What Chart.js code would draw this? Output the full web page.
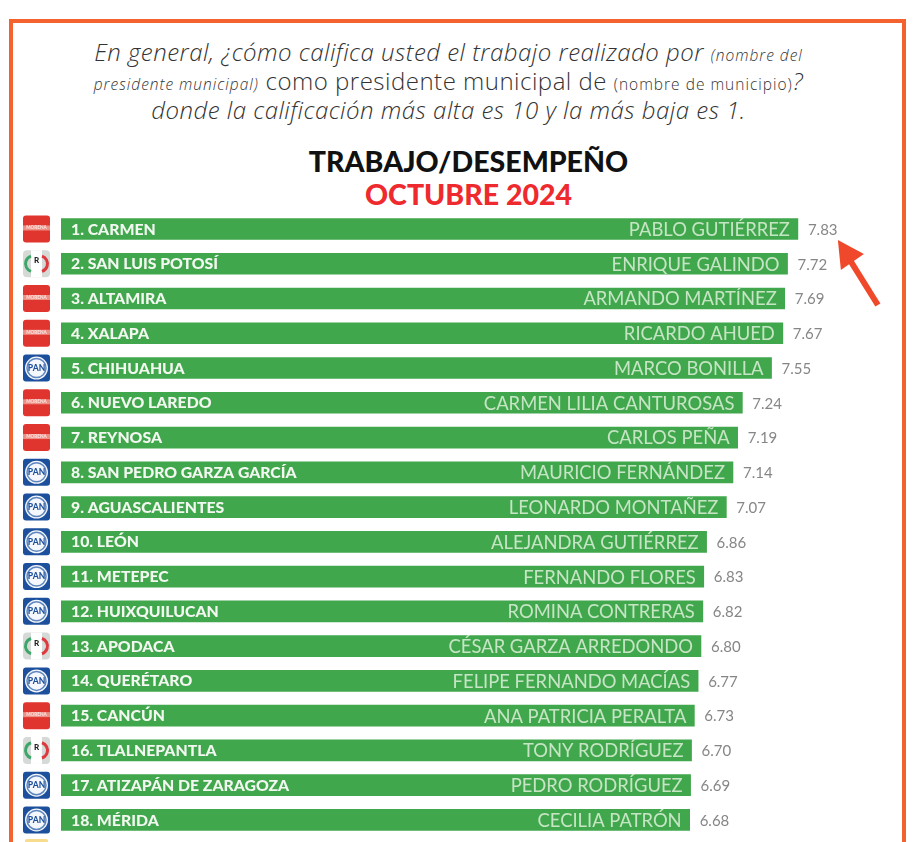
<!DOCTYPE html>
<html>
<head>
<meta charset="utf-8">
<script src="https://cdn.jsdelivr.net/npm/chart.js@4"></script>
<style>
  html, body { margin: 0; background: #fff; overflow: hidden; }
  #page { position: relative; width: 917px; height: 842px; overflow: hidden; font-family: Lato, sans-serif; }
  #frame { position: absolute; left: 9px; top: 19px; width: 889px; height: 900px; border: 4px solid #f4632f; }
  #question { position: absolute; left: 0; top: 37px; width: 897px; text-align: center; font-family: "Open Sans", sans-serif; font-size: 24px; letter-spacing: 0.5px; line-height: 29px; font-weight: 300; font-style: italic; color: #333; white-space: nowrap; }
  #question small { font-size: 15.5px; letter-spacing: 1px; line-height: 1; }
  #question .up { font-style: normal; }
  #title { position: absolute; left: 0; top: 145px; width: 937px; text-align: center; font-size: 28.5px; line-height: 33px; font-weight: 900; color: #111; }
  #title span { color: #ee2a2e; }
  canvas { position: absolute; left: 0; top: 0; }
</style>
</head>
<body>
<div id="page">
  <div id="frame"></div>
  <div id="question">
    En general, ¿cómo califica usted el trabajo realizado por <small>(nombre del</small><br>
    <small>presidente municipal)</small> <span class="up">como presidente municipal de</span> <small class="up">(nombre de municipio)</small>?<br>
    donde la calificación más alta es 10 y la más baja es 1.
  </div>
  <div id="title">TRABAJO/DESEMPEÑO<br><span>OCTUBRE 2024</span></div>
  <canvas id="rankChart" width="917" height="842"></canvas>
</div>
<script>
const cities = ['1. CARMEN', '2. SAN LUIS POTOSÍ', '3. ALTAMIRA', '4. XALAPA', '5. CHIHUAHUA', '6. NUEVO LAREDO',
  '7. REYNOSA', '8. SAN PEDRO GARZA GARCÍA', '9. AGUASCALIENTES', '10. LEÓN', '11. METEPEC', '12. HUIXQUILUCAN',
  '13. APODACA', '14. QUERÉTARO', '15. CANCÚN', '16. TLALNEPANTLA', '17. ATIZAPÁN DE ZARAGOZA', '18. MÉRIDA'];
const mayors = ['PABLO GUTIÉRREZ', 'ENRIQUE GALINDO', 'ARMANDO MARTÍNEZ', 'RICARDO AHUED', 'MARCO BONILLA',
  'CARMEN LILIA CANTUROSAS', 'CARLOS PEÑA', 'MAURICIO FERNÁNDEZ', 'LEONARDO MONTAÑEZ', 'ALEJANDRA GUTIÉRREZ',
  'FERNANDO FLORES', 'ROMINA CONTRERAS', 'CÉSAR GARZA ARREDONDO', 'FELIPE FERNANDO MACÍAS', 'ANA PATRICIA PERALTA',
  'TONY RODRÍGUEZ', 'PEDRO RODRÍGUEZ', 'CECILIA PATRÓN'];
const scores = [7.83, 7.72, 7.69, 7.67, 7.55, 7.24, 7.19, 7.14, 7.07, 6.86, 6.83, 6.82, 6.80, 6.77, 6.73, 6.70, 6.69, 6.68];
const parties = ['MORENA', 'PRI', 'MORENA', 'MORENA', 'PAN', 'MORENA', 'MORENA', 'PAN', 'PAN', 'PAN', 'PAN', 'PAN',
  'PRI', 'PAN', 'MORENA', 'PRI', 'PAN', 'PAN'];

function roundBox(ctx, x, y, w, h, r, fill) {
  ctx.fillStyle = fill;
  ctx.beginPath();
  ctx.roundRect(x, y, w, h, r);
  ctx.fill();
}

// Small party logos, left of each bar
function drawLogo(ctx, party, cx, cy) {
  const x = cx - 13.5, y = cy - 13.5;
  ctx.save();
  ctx.textAlign = 'center';
  ctx.textBaseline = 'middle';
  if (party === 'MORENA') {
    roundBox(ctx, x, y, 27, 27, 3, '#e0352f');
    ctx.fillStyle = '#ee8f86';
    ctx.fillRect(x, cy - 3.5, 27, 5);
    ctx.fillStyle = '#fbe3de';
    ctx.font = '900 4.6px Lato';
    ctx.fillText('MORENA', cx, cy - 1);
  } else if (party === 'PAN') {
    roundBox(ctx, x, y, 27, 27, 3, '#1c4f9c');
    ctx.fillStyle = '#f4f7fb';
    ctx.beginPath();
    ctx.arc(cx, cy, 11.5, 0, Math.PI * 2);
    ctx.fill();
    ctx.strokeStyle = '#5f86bf';
    ctx.lineWidth = 1.5;
    ctx.beginPath();
    ctx.arc(cx, cy, 9.5, 0, Math.PI * 2);
    ctx.stroke();
    ctx.fillStyle = '#1c4f9c';
    ctx.font = '900 8.5px Lato';
    ctx.fillText('PAN', cx, cy);
  } else {
    roundBox(ctx, x, y, 27, 27, 4, '#d5dad6');
    ctx.fillStyle = '#fff';
    ctx.fillRect(x + 8, y, 11, 27);
    ctx.lineWidth = 3;
    ctx.strokeStyle = '#3fa66a';
    ctx.beginPath();
    ctx.arc(cx - 3, cy, 8, Math.PI * 0.6, Math.PI * 1.4);
    ctx.stroke();
    ctx.strokeStyle = '#dc3a3f';
    ctx.beginPath();
    ctx.arc(cx + 3, cy, 8, -Math.PI * 0.4, Math.PI * 0.4);
    ctx.stroke();
    ctx.fillStyle = '#222';
    ctx.font = '900 8px Lato';
    ctx.fillText('R', cx, cy - 3);
  }
  ctx.restore();
}

const rowText = {
  id: 'rowText',
  afterDatasetsDraw(chart) {
    const { ctx } = chart;
    const xs = chart.scales.x, ys = chart.scales.y;
    ctx.save();
    ctx.textBaseline = 'middle';
    cities.forEach((city, i) => {
      const y = ys.getPixelForValue(i);
      const end = xs.getPixelForValue(scores[i]);
      drawLogo(ctx, parties[i], 36.5, y);
      ctx.textAlign = 'left';
      ctx.fillStyle = '#f2f8f0';
      ctx.font = '900 15.8px Lato';
      ctx.fillText(city, xs.left + 10, y + 0.5);
      ctx.textAlign = 'right';
      ctx.fillStyle = '#c6e5c4';
      ctx.font = '400 18.4px Lato';
      ctx.fillText(mayors[i], end - 8, y + 1);
      ctx.textAlign = 'left';
      ctx.fillStyle = '#868686';
      ctx.font = '400 15px Lato';
      ctx.fillText(scores[i].toFixed(2), end + 10, y + 1);
    });
    // cut-off logo of the next row at the bottom edge
    roundBox(ctx, 25, 839, 23, 27, 2, '#f8dc8e');

    // arrow pointing at the top score
    const tipX = xs.getPixelForValue(scores[0]) + 40;
    const tipY = ys.getPixelForValue(0) + 11;
    ctx.strokeStyle = ctx.fillStyle = '#f0482a';
    ctx.lineWidth = 6;
    ctx.beginPath();
    ctx.moveTo(tipX + 40, tipY + 65);
    ctx.lineTo(tipX + 12, tipY + 20);
    ctx.stroke();
    ctx.beginPath();
    ctx.moveTo(tipX, tipY);
    ctx.lineTo(tipX + 26, tipY + 14);
    ctx.lineTo(tipX + 3, tipY + 30);
    ctx.closePath();
    ctx.fill();
    ctx.restore();
  }
};

new Chart(document.getElementById('rankChart'), {
  type: 'bar',
  data: {
    labels: cities,
    datasets: [{ data: scores, backgroundColor: '#41a74d', barThickness: 21 }]
  },
  options: {
    indexAxis: 'y',
    responsive: false,
    animation: false,
    layout: { padding: { left: 61, right: 9, top: 211.6, bottom: 4.7 } },
    plugins: { legend: { display: false }, tooltip: { enabled: false } },
    scales: {
      x: { display: false, min: 0, max: 9 },
      y: { display: false }
    }
  },
  plugins: [rowText]
});
</script>
</body>
</html>
